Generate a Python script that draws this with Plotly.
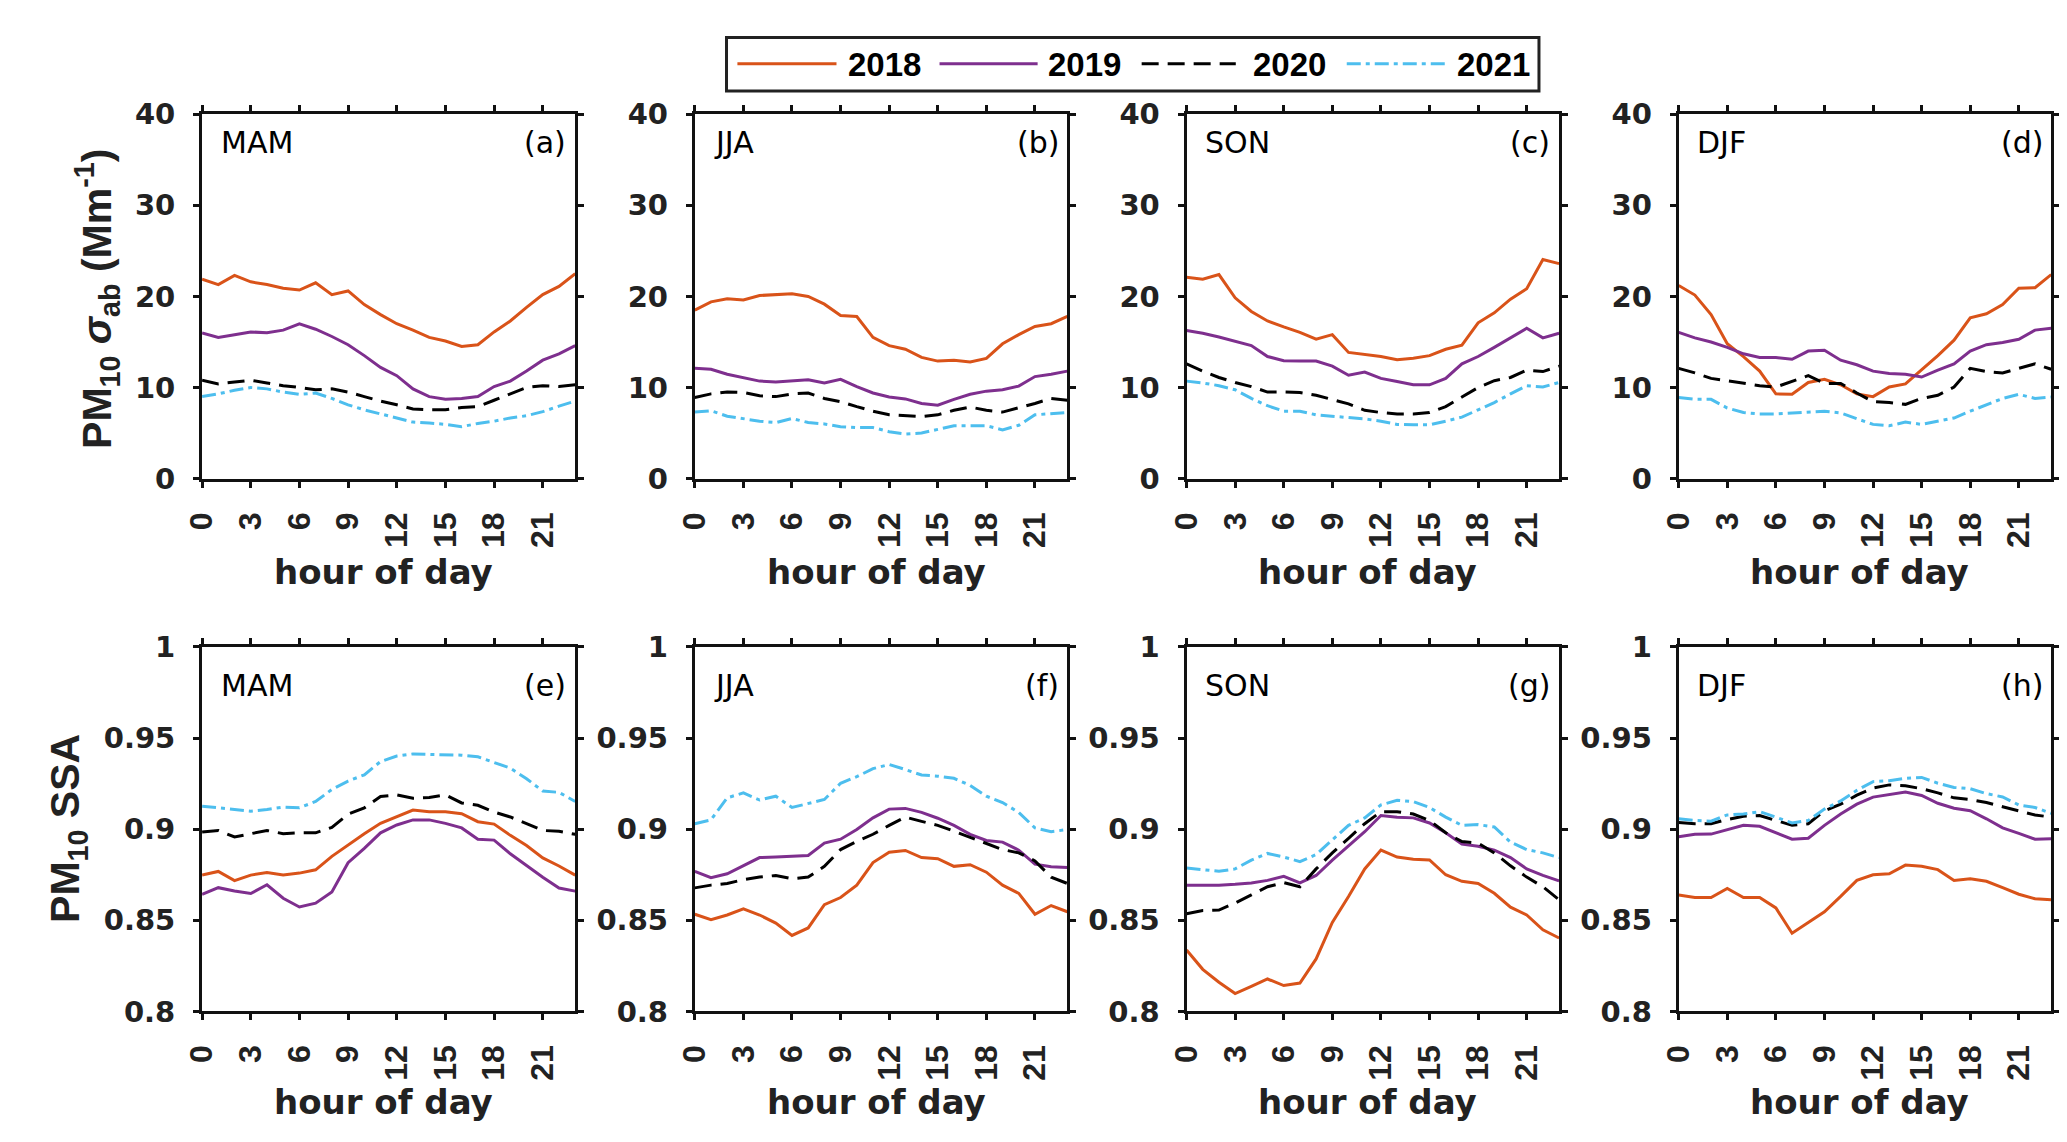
import plotly.graph_objects as go

W, H = 2067, 1142

hours = list(range(24))
years = ["2018", "2019", "2020", "2021"]
seasons = ["MAM", "JJA", "SON", "DJF"]
tags_top = ["(a)", "(b)", "(c)", "(d)"]
tags_bot = ["(e)", "(f)", "(g)", "(h)"]
xtick_vals = [0, 3, 6, 9, 12, 15, 18, 21]
sab_ticks = [0, 10, 20, 30, 40]
ssa_ticks = [0.8, 0.85, 0.9, 0.95, 1.0]
ssa_tick_text = ["0.8", "0.85", "0.9", "0.95", "1"]

# absorption coefficient (Mm-1)
sab_mam_2018 = [21.9,21.3,22.3,21.6,21.3,20.9,20.7,21.5,20.2,20.6,19.1,18.0,17.0,16.3,15.5,15.1,14.5,14.7,16.1,17.3,18.8,20.2,21.1,22.5]
sab_mam_2019 = [16.0,15.5,15.8,16.1,16.0,16.3,17.0,16.4,15.6,14.7,13.5,12.2,11.3,9.85,9.0,8.7,8.8,9.0,10.1,10.7,11.8,13.0,13.7,14.6]
sab_mam_2020 = [10.8,10.4,10.6,10.8,10.5,10.2,10.0,9.75,9.85,9.5,9.0,8.5,8.1,7.65,7.55,7.55,7.8,7.9,8.6,9.3,10.0,10.2,10.1,10.3]
sab_mam_2021 = [9.0,9.3,9.7,10.0,9.85,9.5,9.25,9.4,8.8,8.1,7.55,7.1,6.65,6.2,6.1,5.95,5.7,6.05,6.3,6.65,6.9,7.35,7.95,8.5]

sab_jja_2018 = [18.5,19.4,19.75,19.6,20.1,20.2,20.3,20.0,19.15,17.9,17.8,15.5,14.6,14.2,13.3,12.9,13.0,12.8,13.2,14.8,15.8,16.7,17.0,17.8]
sab_jja_2019 = [12.1,12.0,11.45,11.1,10.7,10.6,10.75,10.85,10.5,10.9,10.1,9.4,8.95,8.75,8.25,8.05,8.7,9.25,9.6,9.75,10.15,11.2,11.45,11.8]
sab_jja_2020 = [8.9,9.3,9.5,9.45,9.1,9.0,9.3,9.4,8.8,8.45,7.9,7.4,7.0,6.9,6.8,7.0,7.5,7.85,7.5,7.3,7.75,8.25,8.8,8.6]
sab_jja_2021 = [7.3,7.45,6.85,6.55,6.3,6.15,6.6,6.15,6.0,5.7,5.6,5.6,5.15,4.9,5.0,5.4,5.8,5.8,5.8,5.35,5.85,7.0,7.15,7.25]

sab_son_2018 = [22.1,21.9,22.4,19.85,18.35,17.3,16.65,16.05,15.3,15.8,13.85,13.65,13.4,13.05,13.2,13.5,14.2,14.65,17.1,18.2,19.7,20.85,24.05,23.6]
sab_son_2019 = [16.25,15.95,15.55,15.1,14.6,13.4,12.95,12.9,12.9,12.35,11.35,11.7,11.0,10.65,10.3,10.3,11.0,12.6,13.4,14.4,15.45,16.5,15.45,15.95]
sab_son_2020 = [12.6,11.8,11.1,10.55,10.1,9.5,9.5,9.45,9.15,8.7,8.2,7.5,7.25,7.1,7.1,7.25,7.9,8.95,10.0,10.75,11.1,11.9,11.75,12.35]
sab_son_2021 = [10.7,10.5,10.2,9.75,8.8,8.0,7.4,7.4,7.0,6.85,6.65,6.55,6.3,5.95,5.9,5.9,6.3,6.75,7.55,8.35,9.3,10.2,10.05,10.55]

sab_djf_2018 = [21.2,20.15,18.0,14.8,13.4,11.8,9.3,9.25,10.55,10.9,10.3,9.3,9.0,10.05,10.4,11.9,13.5,15.2,17.65,18.1,19.1,20.9,20.95,22.4]
sab_djf_2019 = [16.05,15.45,15.0,14.4,13.7,13.3,13.3,13.1,14.0,14.1,13.0,12.5,11.8,11.55,11.45,11.15,11.9,12.6,14.0,14.7,14.95,15.3,16.3,16.5]
sab_djf_2020 = [12.1,11.6,11.0,10.75,10.45,10.2,10.05,10.7,11.3,10.45,10.45,9.4,8.45,8.35,8.15,8.8,9.15,10.05,12.1,11.75,11.6,12.1,12.6,12.0]
sab_djf_2021 = [8.9,8.7,8.7,7.75,7.25,7.1,7.1,7.2,7.3,7.4,7.2,6.55,5.95,5.8,6.2,5.95,6.3,6.65,7.4,8.1,8.8,9.25,8.8,8.95]

# single scattering albedo
ssa_mam_2018 = [0.8748,0.8768,0.8718,0.8748,0.8762,0.8748,0.8759,0.8777,0.8851,0.8913,0.8975,0.9032,0.9067,0.9105,0.9096,0.9096,0.9085,0.9041,0.9028,0.8966,0.8910,0.8842,0.8798,0.8748]
ssa_mam_2019 = [0.8642,0.8679,0.8661,0.8647,0.8695,0.8621,0.8573,0.8594,0.8656,0.8816,0.8895,0.8980,0.9023,0.9051,0.9051,0.9032,0.9007,0.8945,0.8940,0.8865,0.8801,0.8736,0.8677,0.8660]
ssa_mam_2020 = [0.8984,0.8993,0.8957,0.8975,0.8993,0.8975,0.8980,0.8980,0.9010,0.9082,0.9117,0.9179,0.9188,0.9170,0.9174,0.9188,0.9144,0.9131,0.9094,0.9067,0.9032,0.8993,0.8988,0.8972]
ssa_mam_2021 = [0.9126,0.9117,0.9105,0.9099,0.9108,0.9121,0.9117,0.9152,0.9218,0.9264,0.9298,0.9371,0.9401,0.9413,0.9410,0.9406,0.9406,0.9397,0.9365,0.9335,0.9277,0.9209,0.9202,0.9152]

ssa_jja_2018 = [0.8533,0.8503,0.8529,0.8563,0.8529,0.8485,0.8417,0.8458,0.8586,0.8625,0.8693,0.8817,0.8874,0.8883,0.8844,0.8838,0.8796,0.8805,0.8764,0.8693,0.8648,0.8533,0.8581,0.8547]
ssa_jja_2019 = [0.8769,0.8734,0.8755,0.8799,0.8844,0.8847,0.8853,0.8856,0.8924,0.8945,0.8998,0.9062,0.9110,0.9114,0.9092,0.9060,0.9021,0.8972,0.8938,0.8929,0.8885,0.8808,0.8794,0.8790]
ssa_jja_2020 = [0.8678,0.8693,0.8702,0.8723,0.8737,0.8746,0.8728,0.8737,0.8796,0.8888,0.8933,0.8972,0.9021,0.9066,0.9043,0.9021,0.8989,0.8956,0.8924,0.8888,0.8870,0.8826,0.8737,0.8702]
ssa_jja_2021 = [0.9030,0.9051,0.9172,0.9199,0.9160,0.9181,0.9119,0.9140,0.9163,0.9252,0.9288,0.9332,0.9355,0.9327,0.9297,0.9291,0.9279,0.9240,0.9181,0.9146,0.9092,0.9007,0.8986,0.8998]

ssa_son_2018 = [0.8337,0.8231,0.8160,0.8098,0.8137,0.8178,0.8142,0.8156,0.8288,0.8488,0.8631,0.8782,0.8885,0.8847,0.8835,0.8831,0.8750,0.8714,0.8702,0.8648,0.8572,0.8529,0.8448,0.8403]
ssa_son_2019 = [0.8693,0.8693,0.8693,0.8698,0.8705,0.8719,0.8741,0.8705,0.8746,0.8830,0.8906,0.8986,0.9075,0.9066,0.9062,0.9034,0.8980,0.8918,0.8906,0.8885,0.8844,0.8782,0.8746,0.8716]
ssa_son_2020 = [0.8536,0.8554,0.8556,0.8595,0.8639,0.8684,0.8707,0.8684,0.8782,0.8870,0.8950,0.9030,0.9096,0.9096,0.9083,0.9048,0.8980,0.8932,0.8924,0.8870,0.8799,0.8737,0.8684,0.8613]
ssa_son_2021 = [0.8787,0.8778,0.8769,0.8782,0.8830,0.8867,0.8847,0.8822,0.8861,0.8941,0.9021,0.9062,0.9133,0.9158,0.9151,0.9119,0.9066,0.9021,0.9025,0.9012,0.8929,0.8888,0.8870,0.8844]

ssa_djf_2018 = [0.8639,0.8625,0.8625,0.8675,0.8625,0.8625,0.8568,0.8429,0.8488,0.8547,0.8631,0.8719,0.8750,0.8755,0.8803,0.8796,0.8778,0.8719,0.8728,0.8714,0.8679,0.8643,0.8618,0.8613]
ssa_djf_2019 = [0.8959,0.8972,0.8973,0.8998,0.9021,0.9016,0.8980,0.8945,0.8950,0.9021,0.9083,0.9137,0.9176,0.9190,0.9204,0.9185,0.9142,0.9115,0.9101,0.9057,0.9007,0.8977,0.8945,0.8947]
ssa_djf_2020 = [0.9036,0.9030,0.9030,0.9053,0.9071,0.9075,0.9048,0.9021,0.9030,0.9101,0.9137,0.9187,0.9226,0.9243,0.9238,0.9222,0.9199,0.9172,0.9163,0.9146,0.9123,0.9101,0.9078,0.9066]
ssa_djf_2021 = [0.9057,0.9048,0.9044,0.9078,0.9083,0.9096,0.9066,0.9034,0.9048,0.9110,0.9155,0.9213,0.9261,0.9266,0.9279,0.9284,0.9252,0.9229,0.9222,0.9195,0.9177,0.9133,0.9119,0.9087]

sab_panels = [
    [sab_mam_2018, sab_mam_2019, sab_mam_2020, sab_mam_2021],
    [sab_jja_2018, sab_jja_2019, sab_jja_2020, sab_jja_2021],
    [sab_son_2018, sab_son_2019, sab_son_2020, sab_son_2021],
    [sab_djf_2018, sab_djf_2019, sab_djf_2020, sab_djf_2021],
]
ssa_panels = [
    [ssa_mam_2018, ssa_mam_2019, ssa_mam_2020, ssa_mam_2021],
    [ssa_jja_2018, ssa_jja_2019, ssa_jja_2020, ssa_jja_2021],
    [ssa_son_2018, ssa_son_2019, ssa_son_2020, ssa_son_2021],
    [ssa_djf_2018, ssa_djf_2019, ssa_djf_2020, ssa_djf_2021],
]

# styles
colors = ["#D95319", "#7E2F8E", "#000000", "#4DBEEE"]
dashes = ["solid", "solid", "17px,9px", "14px,5px,4px,5px"]
LW = 3.0

ARIAL = "Liberation Sans, Arial, sans-serif"
DEJAVU = "DejaVu Sans, sans-serif"
TXT = "#222222"

# panel pixel geometry
col_px = [(176.7, 553.3), (674.0, 1050.0), (1170.3, 1546.3), (1667.0, 2043.0)]
row_px = [(92.0, 467.5), (641.0, 1016.7)]

def px_x(x):
    return x / W

def px_y(y):
    return 1 - y / H

fig = go.Figure()
layout = dict(
    width=W, height=H,
    margin=dict(l=0, r=0, t=0, b=0),
    paper_bgcolor="white", plot_bgcolor="white",
    showlegend=False,
)
annotations = []
shapes = []

for r in range(2):
    for c in range(4):
        idx = r * 4 + c + 1
        sfx = "" if idx == 1 else str(idx)
        series = sab_panels[c] if r == 0 else ssa_panels[c]
        for k in range(4):
            fig.add_trace(go.Scatter(
                x=hours, y=series[k], mode="lines", name=years[k],
                line=dict(color=colors[k], width=LW, dash=dashes[k]),
                xaxis="x" + sfx, yaxis="y" + sfx, showlegend=False,
            ))
        x0, x1 = col_px[c]
        y0, y1 = row_px[r]
        common = dict(
            showline=True, linewidth=3, linecolor="#111111", mirror="ticks",
            ticks="outside", ticklen=6, tickwidth=3, tickcolor="#111111",
            showgrid=False, zeroline=False,
        )
        layout["xaxis" + sfx] = dict(
            domain=[px_x(x0), px_x(x1)], anchor="y" + sfx,
            range=[0, 23], tickmode="array", tickvals=xtick_vals,
            ticktext=[str(v) for v in xtick_vals], tickangle=-90,
            tickfont=dict(family=ARIAL, size=32, color=TXT, weight="bold"),
            ticklabelstandoff=12,
            **common,
        )
        if r == 0:
            ydict = dict(range=[0, 40], tickvals=sab_ticks,
                         ticktext=[str(v) for v in sab_ticks])
        else:
            ydict = dict(range=[0.8, 1.0], tickvals=ssa_ticks, ticktext=ssa_tick_text)
        layout["yaxis" + sfx] = dict(
            domain=[px_y(y1), px_y(y0)], anchor="x" + sfx, tickmode="array",
            tickfont=dict(family=DEJAVU, size=29, color=TXT, weight="bold"),
            ticklabelstandoff=12,
            **ydict, **common,
        )
        # season label and panel tag
        top_off = 0.922 if r == 0 else 0.895
        annotations.append(dict(
            text=seasons[c], xref="x" + sfx + " domain", yref="y" + sfx + " domain",
            x=0.045, y=top_off, xanchor="left", yanchor="middle", showarrow=False,
            font=dict(family=DEJAVU, size=30, color="black"),
        ))
        annotations.append(dict(
            text=(tags_top if r == 0 else tags_bot)[c],
            xref="x" + sfx + " domain", yref="y" + sfx + " domain",
            x=0.982, y=top_off, xanchor="right", yanchor="middle", showarrow=False,
            font=dict(family=DEJAVU, size=30, color="black"),
        ))
        # x title
        annotations.append(dict(
            text="hour of day", xref="paper", yref="paper",
            x=px_x((x0 + x1) / 2 - 5), y=px_y(564 if r == 0 else 1110),
            xanchor="center", yanchor="middle", showarrow=False,
            font=dict(family=DEJAVU, size=34, color=TXT, weight="bold"),
        ))

# y titles
annotations.append(dict(
    text="PM<sub>10</sub> <i>σ</i><sub>ab</sub> (Mm<sup>-1</sup>)", xref="paper", yref="paper",
    x=px_x(70), y=px_y(282), xanchor="center", yanchor="middle", textangle=-90,
    showarrow=False, font=dict(family=ARIAL, size=41, color=TXT, weight="bold"),
))
annotations.append(dict(
    text="PM<sub>10</sub> SSA", xref="paper", yref="paper",
    x=px_x(42), y=px_y(828), xanchor="center", yanchor="middle", textangle=-90,
    showarrow=False, font=dict(family=ARIAL, size=41, color=TXT, weight="bold"),
))

# custom legend (box, line samples, labels)
shapes.append(dict(type="rect", xref="paper", yref="paper",
                   x0=px_x(706), x1=px_x(1526), y0=px_y(68), y1=px_y(13),
                   line=dict(color="#222222", width=3), fillcolor="white"))
leg_lines = [(717, 817), (921, 1020), (1125, 1220), (1332, 1434)]
leg_text_x = [827, 1028, 1235, 1441]
for k in range(4):
    shapes.append(dict(type="line", xref="paper", yref="paper",
                       x0=px_x(leg_lines[k][0]), x1=px_x(leg_lines[k][1]),
                       y0=px_y(40), y1=px_y(40),
                       line=dict(color=colors[k], width=LW, dash=dashes[k])))
    annotations.append(dict(
        text=years[k], xref="paper", yref="paper", x=px_x(leg_text_x[k]), y=px_y(41),
        xanchor="left", yanchor="middle", showarrow=False,
        font=dict(family=ARIAL, size=33, color="black", weight="bold"),
    ))

layout["annotations"] = annotations
layout["shapes"] = shapes
fig.update_layout(**layout)
fig.write_html("out.html")
